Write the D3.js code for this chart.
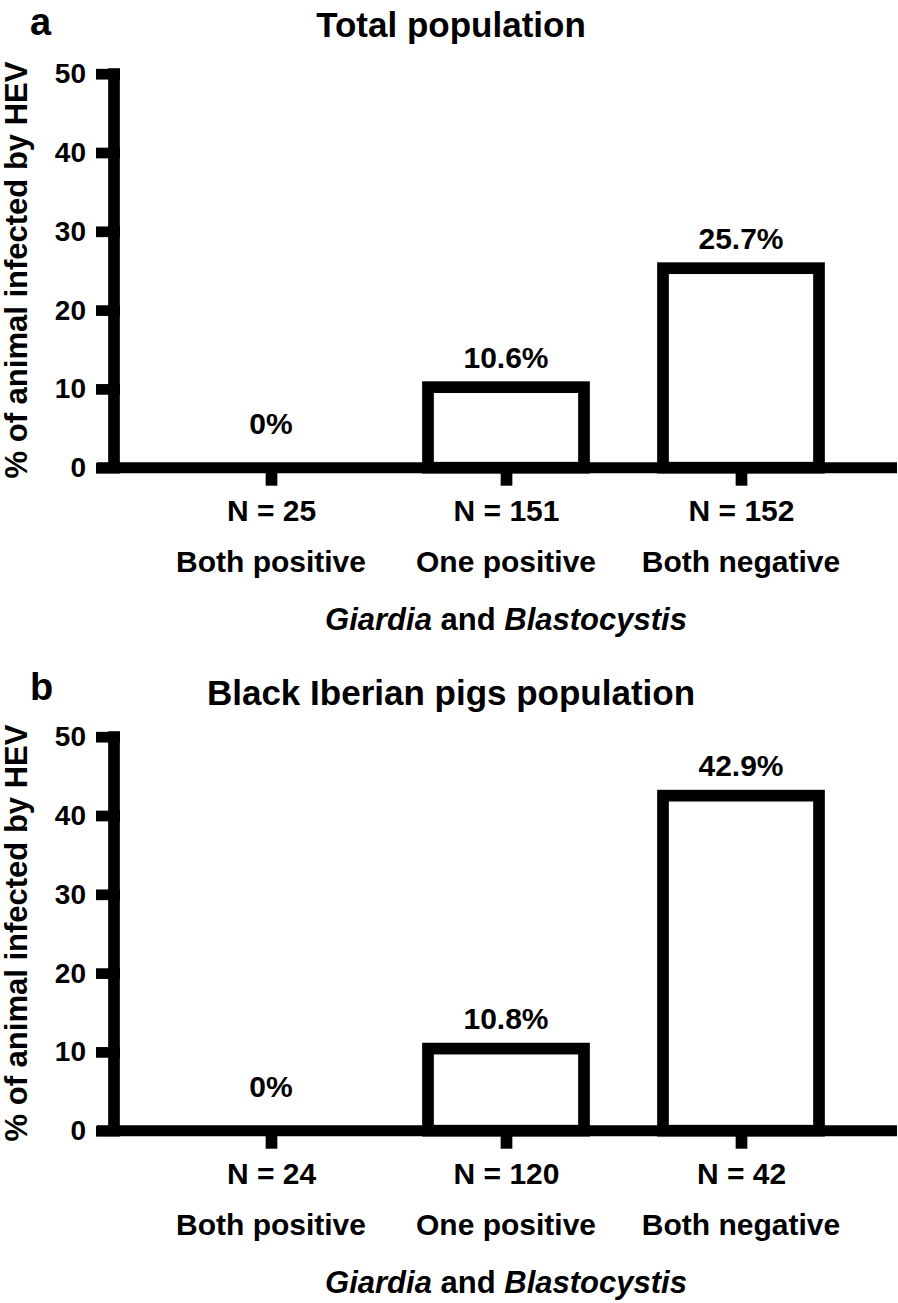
<!DOCTYPE html>
<html>
<head>
<meta charset="utf-8">
<script src="https://cdn.jsdelivr.net/npm/d3@7"></script>
<style>
  html, body { margin: 0; padding: 0; background: #fff; }
  svg { display: block; font-family: "Liberation Sans", Arial, Helvetica, sans-serif; font-weight: bold; }
</style>
</head>
<body>
<div id="chart"></div>
<script>
// ---- data ----
const categories = ["Both positive", "One positive", "Both negative"];
const totalValues = [0, 10.6, 25.7];
const totalN = [25, 151, 152];
const iberianValues = [0, 10.8, 42.9];
const iberianN = [24, 120, 42];
const yTicks = [0, 10, 20, 30, 40, 50];
const panelTitles = ["Total population", "Black Iberian pigs population"];
const panelLetters = ["a", "b"];
const yLabel = "% of animal infected by HEV";

// ---- layout ----
const W = 898, H = 1303;
const panelOffsets = [0, 663];
const titleBaselines = [37, 705];
const axisX = 114, axisW = 11.7;
const xAxisLeft = 97, xAxisRight = 897;
const barW = 156;

const svg = d3.select("#chart").append("svg")
  .attr("width", W).attr("height", H)
  .attr("viewBox", `0 0 ${W} ${H}`);

const x = d3.scalePoint().domain(categories).range([271, 741]);

function drawPanel(i, values, ns) {
  const off = panelOffsets[i];
  const g = svg.append("g");
  const y = d3.scaleLinear().domain([0, 50]).range([467.7 + off, 73.7 + off]);
  const y0 = y(0);

  // letter and title
  g.append("text").attr("x", 30).attr("y", 35 + off + (i ? 2 : 0))
    .attr("font-size", 38).text(panelLetters[i]);
  g.append("text").attr("x", 451).attr("y", titleBaselines[i])
    .attr("text-anchor", "middle").attr("font-size", 35).text(panelTitles[i]);

  // y label
  g.append("text")
    .attr("transform", `translate(27,${270 + off}) rotate(-90)`)
    .attr("text-anchor", "middle").attr("font-size", 31).text(yLabel);

  const data = categories.map((c, k) => ({ c, v: values[k], n: ns[k] }));

  // bars
  g.selectAll("rect.bar").data(data.filter(d => d.v > 0)).join("rect")
    .attr("class", "bar")
    .attr("x", d => x(d.c) - barW / 2)
    .attr("y", d => y(d.v) + 3)
    .attr("width", barW)
    .attr("height", d => y0 - (y(d.v) + 3))
    .attr("fill", "#fff").attr("stroke", "#000").attr("stroke-width", axisW);

  // value labels
  g.selectAll("text.val").data(data).join("text")
    .attr("class", "val")
    .attr("x", d => x(d.c))
    .attr("y", d => d.v > 0 ? y(d.v) - 16.3 : y0 - 34)
    .attr("text-anchor", "middle").attr("font-size", 30)
    .text(d => d3.format(".1f")(d.v).replace(/\.0$/, "") + "%");

  // y axis
  const yAxis = d3.axisLeft(y).tickValues(yTicks).tickSizeInner(18).tickSizeOuter(0).tickPadding(10);
  const ya = g.append("g").attr("transform", `translate(${axisX},0)`).call(yAxis);
  ya.select(".domain").attr("stroke", "#000").attr("stroke-width", axisW)
    .attr("d", `M0,${y0}V${y(50) - 5.5}`);
  ya.selectAll(".tick line").attr("stroke", "#000").attr("stroke-width", 10.7)
    .attr("x1", 6).attr("x2", -18);
  ya.selectAll(".tick text").attr("font-size", 28).attr("fill", "#000")
    .attr("font-family", null).attr("font-weight", "bold");

  // x axis line
  g.append("line").attr("x1", xAxisLeft).attr("x2", xAxisRight)
    .attr("y1", y0).attr("y2", y0)
    .attr("stroke", "#000").attr("stroke-width", 11);

  // x ticks and N labels
  const xAxis = d3.axisBottom(x).tickSizeInner(18).tickSizeOuter(0).tickPadding(14.4)
    .tickFormat((c, k) => "N = " + ns[k]);
  const xa = g.append("g").attr("transform", `translate(0,${y0})`).call(xAxis);
  xa.select(".domain").remove();
  xa.selectAll(".tick line").attr("stroke", "#000").attr("stroke-width", axisW);
  xa.selectAll(".tick text").attr("font-size", 30).attr("fill", "#000")
    .attr("font-family", null).attr("font-weight", "bold");

  // category names
  g.selectAll("text.cat").data(categories).join("text")
    .attr("class", "cat")
    .attr("x", d => x(d)).attr("y", y0 + 104)
    .attr("text-anchor", "middle").attr("font-size", 30).text(d => d);

  // group label
  const gl = g.append("text").attr("x", x(categories[1])).attr("y", y0 + 162)
    .attr("text-anchor", "middle").attr("font-size", 31);
  gl.append("tspan").attr("font-style", "italic").text("Giardia");
  gl.append("tspan").text(" and ");
  gl.append("tspan").attr("font-style", "italic").text("Blastocystis");
}

drawPanel(0, totalValues, totalN);
drawPanel(1, iberianValues, iberianN);
</script>
</body>
</html>
